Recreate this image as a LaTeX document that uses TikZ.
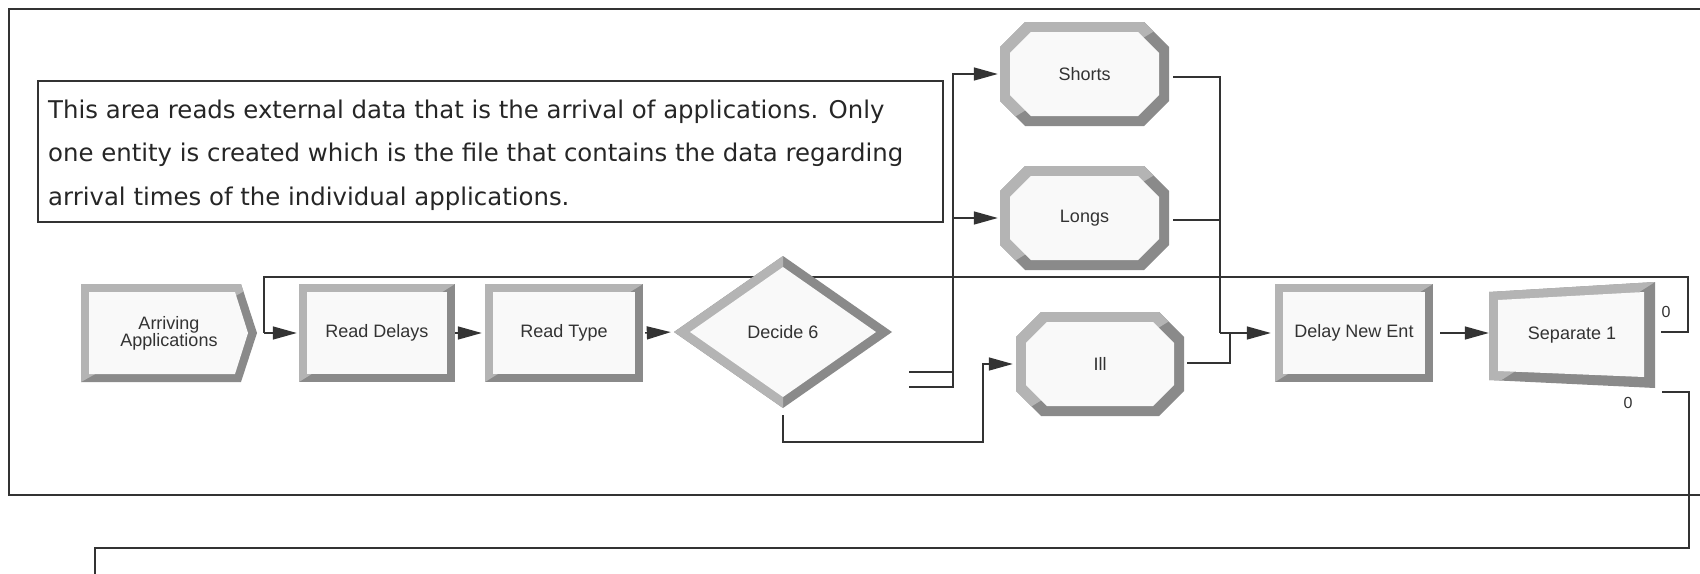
\documentclass[tikz,border=0pt]{standalone}
\usepackage{fontspec}
\setmainfont{Liberation Sans}
\newfontfamily\notefont{DejaVu Sans}
\usetikzlibrary{arrows.meta}
\definecolor{bvface}{HTML}{F9F9F9}
\definecolor{bvlight}{HTML}{B4B4B4}
\definecolor{bvdark}{HTML}{8A8A8A}
\definecolor{txt}{HTML}{333333}
\definecolor{lnc}{HTML}{333333}
\pgfdeclarelayer{bg}
\pgfsetlayers{bg,main}
\newcommand\bvfill[3]{%
  \fill[bvdark] #1;
  \begin{scope}\clip #2; \fill[bvlight] #1;\end{scope}
  \fill[bvface] #3;}
\newcommand\bevrect[5]{%
  \pgfmathsetmacro\bvXa{#1+#5}\pgfmathsetmacro\bvYa{#2+#5}%
  \pgfmathsetmacro\bvXb{#3-#5}\pgfmathsetmacro\bvYb{#4-#5}%
  \bvfill{(#1,#2) rectangle (#3,#4)}{(#1,#4) -- (#1,#2) -- (#3,#2) -- cycle}{(\bvXa,\bvYa) rectangle (\bvXb,\bvYb)}}
\newcommand\bevoct[6]{%
  \pgfmathsetmacro\bvXa{#1+#6}\pgfmathsetmacro\bvYa{#2+#6}%
  \pgfmathsetmacro\bvXb{#3-#6}\pgfmathsetmacro\bvYb{#4-#6}%
  \pgfmathsetmacro\bvA{#1+#5}\pgfmathsetmacro\bvB{#3-#5}%
  \pgfmathsetmacro\bvC{#2+#5}\pgfmathsetmacro\bvD{#4-#5}%
  \pgfmathsetmacro\bvCi{#5-0.414*#6}%
  \pgfmathsetmacro\bvE{\bvXa+\bvCi}\pgfmathsetmacro\bvF{\bvXb-\bvCi}%
  \pgfmathsetmacro\bvG{\bvYa+\bvCi}\pgfmathsetmacro\bvH{\bvYb-\bvCi}%
  \bvfill{(#1,\bvC) -- (\bvA,#2) -- (\bvB,#2) -- (#3,\bvC) -- (#3,\bvD) -- (\bvB,#4) -- (\bvA,#4) -- (#1,\bvD) -- cycle}%
    {(#1,#4) -- (#1,#2) -- (#3,#2) -- cycle}%
    {(\bvXa,\bvG) -- (\bvE,\bvYa) -- (\bvF,\bvYa) -- (\bvXb,\bvG) -- (\bvXb,\bvH) -- (\bvF,\bvYb) -- (\bvE,\bvYb) -- (\bvXa,\bvH) -- cycle}}
\begin{document}
\begin{tikzpicture}[x=1pt,y=-1pt,
  blk/.style={inner sep=0pt, text=txt, font=\fontsize{18}{18}\selectfont, align=center},
  lnk/.style={draw=lnc, line width=1.5pt},
  arr/.style={lnk, -{Triangle[length=24pt,width=13pt]}},
  zero/.style={inner sep=0pt, text=txt, font=\fontsize{16}{16}\selectfont}]
\useasboundingbox (0,0) rectangle (1700,573);
\clip (0,0) rectangle (1700,573);
% block shapes
\bvfill{(81,284) -- (241,284) -- (257,333) -- (241,382) -- (81,382) -- cycle}%
  {(81,382) -- (81,284) -- (257,284) -- cycle}%
  {(89,292) -- (235,292) -- (248,333) -- (235,374) -- (89,374) -- cycle}
\bevrect{299}{284}{455}{382}{8}
\bevrect{485}{284}{643}{382}{8}
\bvfill{(674,332) -- (783,256) -- (892,332) -- (783,408) -- cycle}%
  {(600,200) rectangle (783,450)}%
  {(690,332) -- (783,267) -- (876,332) -- (783,397) -- cycle}
\bevoct{1000}{22}{1169}{126}{25}{10}
\bevoct{1000}{166}{1169}{270}{25}{10}
\bevoct{1016}{312}{1184}{416}{25}{10}
\bevrect{1275}{284}{1433}{382}{8}
\bvfill{(1489,292) -- (1655,282) -- (1655,388) -- (1489,380) -- cycle}%
  {(1489,388) -- (1489,282) -- (1655,282) -- cycle}%
  {(1498,300) -- (1644,292) -- (1644,377) -- (1498,371) -- cycle}
% named block nodes
\node[blk, minimum width=176pt, minimum height=98pt] (ar) at (169,333) {Arriving\\[-1pt]Applications};
\node[blk, minimum width=156pt, minimum height=98pt] (rd) at (377,333) {Read Delays};
\node[blk, minimum width=158pt, minimum height=98pt] (rt) at (564,333) {Read Type};
\node[blk, minimum width=218pt, minimum height=152pt] (dc) at (783,332) {Decide 6};
\node[blk, minimum width=169pt, minimum height=104pt] (sh) at (1084.5,74) {Shorts};
\node[blk, minimum width=169pt, minimum height=104pt] (lg) at (1084.5,218) {Longs};
\node[blk, minimum width=168pt, minimum height=104pt] (il) at (1100,364) {Ill};
\node[blk, minimum width=158pt, minimum height=98pt] (dn) at (1354,333) {Delay New Ent};
\node[blk, minimum width=166pt, minimum height=106pt] (sp) at (1572,335) {Separate 1};
\node[zero] (z1) at (1666,312) {0};
\node[zero] (z2) at (1628,403) {0};
% note
\node[draw=lnc, line width=1.2pt, minimum width=905pt, minimum height=141pt, inner sep=0pt] (note) at (490.5,151.5) {};
\node[anchor=west, align=left, inner sep=0pt, text=black!85, font=\notefont\fontsize{24.4}{43.5}\selectfont] (notetxt) at (48,155)
  {This area reads external data that is the arrival of applications. Only\\
   one entity is created which is the file that contains the data regarding\\
   arrival times of the individual applications.};
% connectors
\coordinate (dcx1) at (909,372);
\coordinate (dcx2) at (909,387);
\coordinate (dcxb) at (783,415);
\coordinate (jl) at (953,218);
\coordinate (ilo) at (1187,363);
\coordinate (jd) at (1220,333);
\coordinate (spo1) at (1661,332);
\coordinate (spo2) at (1662,392);
\coordinate (fbx) at (264,277);
\coordinate (lowend) at (95,590);
\begin{pgfonlayer}{bg}
\fill[white] (0,0) rectangle (1700,573);
\draw[draw=lnc, line width=1.5pt] (9,9) rectangle (1780,495);
\draw[lnk] (spo1) -- (1688,332) -- (1688,277) -- (fbx) -- (264,333);
\draw[arr, shorten <=7pt, shorten >=2pt] (ar.east) -- (rd.west);
\draw[arr, shorten >=3pt] (rd.east) -- (rt.west);
\draw[arr, shorten <=2pt, shorten >=3pt] (rt.east) -- (dc.west);
\draw[lnk] (dcx1) -- (953,372);
\draw[arr, shorten >=2pt] (dcx2) -| (953,74) -- (sh.west);
\draw[arr, shorten >=2pt] (jl) -- (lg.west);
\draw[arr, shorten >=3pt] (dcxb) -- (783,442) -| (983,364) -- (il.west);
\draw[lnk] (sh.east) ++(4,3) -- (1220,77) -- (jd);
\draw[lnk] (lg.east) ++(4,2) -- (1220,220);
\draw[arr, shorten >=4pt] (ilo) -- (1230,363) -- (1230,333) -- (dn.west);
\draw[lnk] (jd) -- (1230,333);
\draw[arr, shorten <=7pt] (dn.east) -- (sp.west |- dn.east);
\draw[lnk] (spo2) -- (1689,392) -- (1689,548) -- (95,548) -- (lowend);
\end{pgfonlayer}
\end{tikzpicture}
\end{document}
